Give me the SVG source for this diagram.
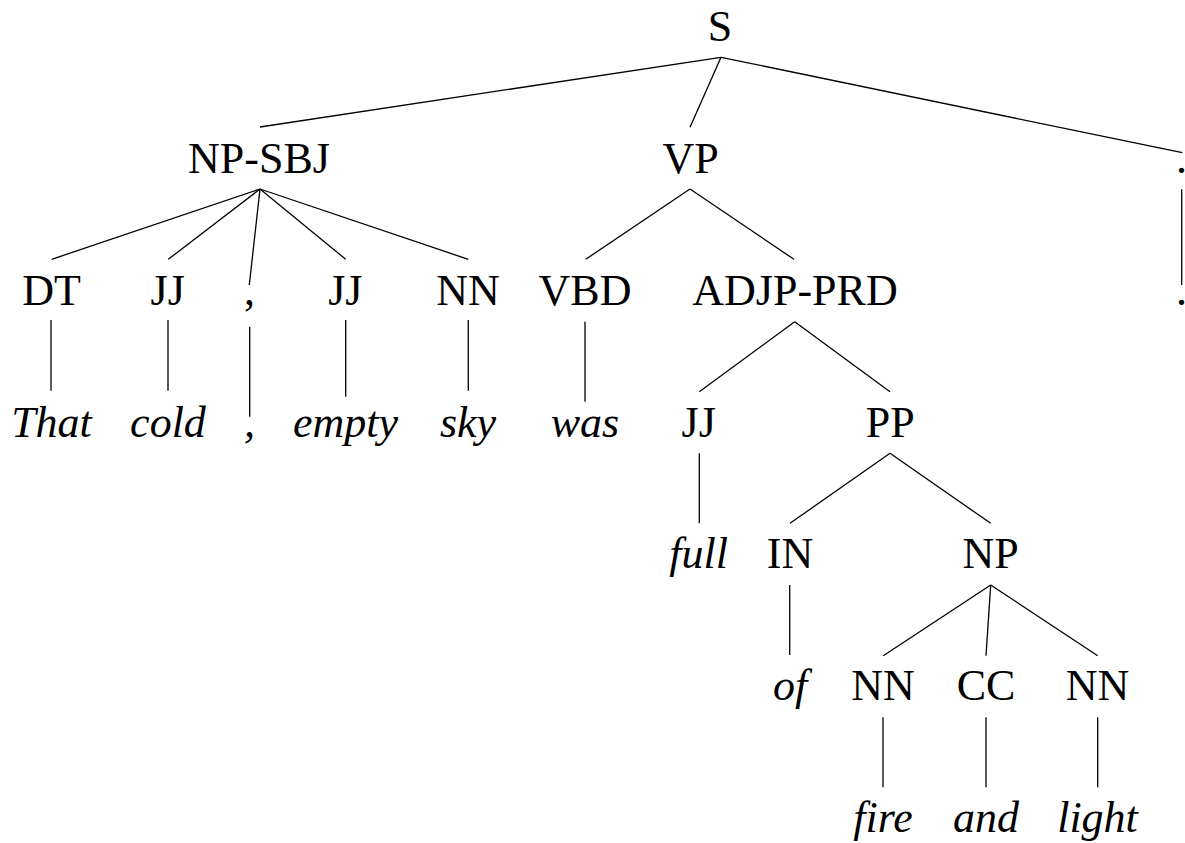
<svg xmlns="http://www.w3.org/2000/svg" width="1185" height="843" viewBox="0 0 1185 843">
<style>
text{font-family:"Liberation Serif","Times New Roman",serif;font-size:44px;fill:#000;text-anchor:middle}
.w{font-style:italic}
#edges line{stroke:#000;stroke-width:1.3;stroke-linecap:butt}
</style>
<rect width="1185" height="843" fill="#fff"/>
<g id="edges">
<line x1="721" y1="57.3" x2="260" y2="127"/>
<line x1="721" y1="57.3" x2="690" y2="127.3"/>
<line x1="721" y1="57.3" x2="1182.3" y2="152.7"/>
<line x1="260" y1="189" x2="51.7" y2="259.3"/>
<line x1="260" y1="189" x2="168.3" y2="259.3"/>
<line x1="260" y1="189" x2="249.3" y2="285"/>
<line x1="260" y1="189" x2="345.7" y2="259.3"/>
<line x1="260" y1="189" x2="468.3" y2="259.3"/>
<line x1="690" y1="189" x2="585.7" y2="259.3"/>
<line x1="690" y1="189" x2="794" y2="259.3"/>
<line x1="1181.7" y1="189.3" x2="1181.7" y2="285"/>
<line x1="51" y1="320" x2="51" y2="390.7"/>
<line x1="168" y1="320" x2="168" y2="390.7"/>
<line x1="249.7" y1="326.7" x2="249.7" y2="416.7"/>
<line x1="345.7" y1="320" x2="345.7" y2="396.7"/>
<line x1="468.3" y1="320" x2="468.3" y2="390.7"/>
<line x1="585" y1="321.7" x2="585" y2="401.7"/>
<line x1="794.7" y1="321.7" x2="699.3" y2="391.7"/>
<line x1="794.7" y1="321.7" x2="890" y2="391.7"/>
<line x1="699.3" y1="453.3" x2="699.3" y2="523.3"/>
<line x1="890" y1="453.3" x2="790" y2="523.3"/>
<line x1="890" y1="453.3" x2="990.7" y2="523.3"/>
<line x1="789.7" y1="585" x2="789.7" y2="655"/>
<line x1="990.7" y1="585" x2="883.3" y2="655.7"/>
<line x1="990.7" y1="585" x2="986" y2="655.7"/>
<line x1="990.7" y1="585" x2="1097.7" y2="655.7"/>
<line x1="883" y1="717.3" x2="883" y2="787.3"/>
<line x1="986" y1="717.3" x2="986" y2="787.3"/>
<line x1="1097.7" y1="717.3" x2="1097.7" y2="787.3"/>
</g>
<g id="n-S"><text x="720" y="40.7">S</text></g>
<g id="n-NPSBJ"><text x="259" y="173.3">NP-SBJ</text></g>
<g id="n-VP"><text x="690.5" y="173.3">VP</text></g>
<g id="n-dot1"><text x="1181.5" y="173.3">.</text></g>
<g id="n-DT"><text x="51.5" y="305">DT</text></g>
<g id="n-JJ1"><text x="167.7" y="305">JJ</text></g>
<g id="n-comma"><text x="249.5" y="305">,</text></g>
<g id="n-JJ2"><text x="345.3" y="305">JJ</text></g>
<g id="n-NN1"><text x="468" y="305">NN</text></g>
<g id="n-VBD"><text x="585" y="305">VBD</text></g>
<g id="n-ADJP"><text x="795" y="305">ADJP-PRD</text></g>
<g id="n-dot2"><text x="1181.5" y="305">.</text></g>
<g id="w-That"><text class="w" x="51.5" y="436.7">That</text></g>
<g id="w-cold"><text class="w" x="168" y="436.7">cold</text></g>
<g id="w-comma"><text class="w" x="249.5" y="436.7">,</text></g>
<g id="w-empty"><text class="w" x="345.5" y="436.7">empty</text></g>
<g id="w-sky"><text class="w" x="468" y="436.7">sky</text></g>
<g id="w-was"><text class="w" x="585" y="436.7">was</text></g>
<g id="n-JJ3"><text x="698.7" y="436.7">JJ</text></g>
<g id="n-PP"><text x="890.3" y="436.7">PP</text></g>
<g id="w-full"><text class="w" x="698.7" y="568.3">full</text></g>
<g id="n-IN"><text x="790" y="568.3">IN</text></g>
<g id="n-NP"><text x="990.7" y="568.3">NP</text></g>
<g id="w-of"><text class="w" x="790" y="700">of</text></g>
<g id="n-NN2"><text x="883" y="700">NN</text></g>
<g id="n-CC"><text x="986" y="700">CC</text></g>
<g id="n-NN3"><text x="1097.5" y="700">NN</text></g>
<g id="w-fire"><text class="w" x="883" y="831.7">fire</text></g>
<g id="w-and"><text class="w" x="986" y="831.7">and</text></g>
<g id="w-light"><text class="w" x="1097.5" y="831.7">light</text></g>
</svg>
